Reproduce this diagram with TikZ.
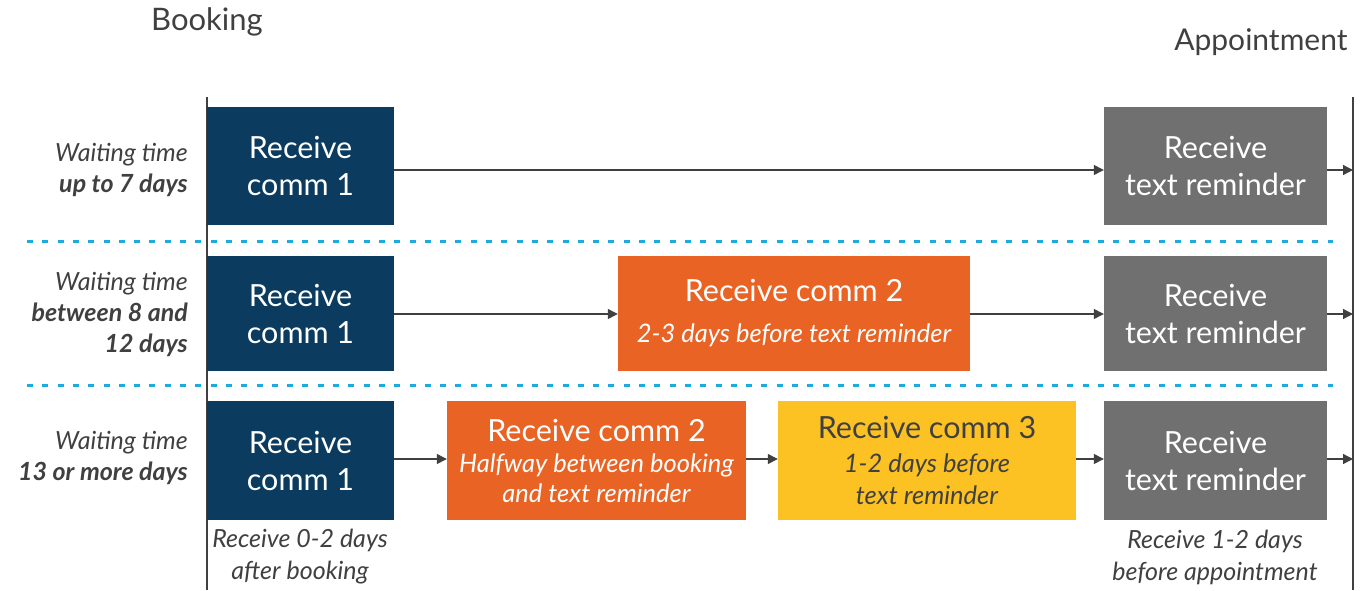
\documentclass[tikz,border=0pt]{standalone}
\usepackage{fontspec}
\setmainfont{Lato}
\usepackage{tikz}
\definecolor{navy}{HTML}{0B3C5F}
\definecolor{slate}{HTML}{6F706F}
\definecolor{rust}{HTML}{E86324}
\definecolor{gold}{HTML}{FCC122}
\definecolor{sky}{HTML}{1DAADF}
\definecolor{ink}{HTML}{404040}
\newcommand{\subline}[1]{{\fontsize{25.5}{30}\selectfont\itshape #1}}
\usetikzlibrary{arrows.meta}

\begin{document}
\begin{tikzpicture}[x=1pt,y=-1pt,
  commbox/.style={inner sep=0pt, align=center, text=white,
    font=\fontsize{30.5}{37}\selectfont},
  sidetext/.style={anchor=east, align=right, text=ink, inner sep=0pt,
    font=\fontsize{25}{31}\selectfont\itshape},
  notetext/.style={align=center, text=ink, inner sep=0pt,
    font=\fontsize{25}{32}\selectfont\itshape},
  flow/.style={-{Triangle[length=10pt,width=10pt]}, ink, line width=1.3pt},
  sep/.style={sky, line width=3pt, dash pattern=on 6pt off 9.3pt}]
\useasboundingbox (0,0) rectangle (1369,590);

% time line ends
\node[text=ink, font=\fontsize{31}{34}\selectfont] (book) at (207,22) {Booking};
\node[text=ink, font=\fontsize{30}{34}\selectfont, anchor=east] (appt) at (1351,42) {Appointment};
\draw[ink, line width=2.6pt] (207,97) -- (207,590);
\draw[ink, line width=2.6pt] (1353,97) -- (1353,590);

% row 1
\node[sidetext] (w1) at (188,170) {Waiting time\\\textbf{up to 7 days}};
\node[commbox, fill=navy, minimum width=187, minimum height=118] (a1) at (300.5,166) {Receive\\comm 1};
\node[commbox, fill=slate, minimum width=223, minimum height=118] (t1) at (1215.5,166) {Receive\\text reminder};
\coordinate (e1) at (1353,170);
\draw[flow] (a1.east |- 0,170) -- (t1.west |- 0,170);
\draw[flow] (t1.east |- 0,170) -- (e1);

\draw[sep] (27,241) -- (1333,241);

% row 2
\node[sidetext] (w2) at (188,314) {Waiting time\\\textbf{between 8 and}\\\textbf{12 days}};
\node[commbox, fill=navy, minimum width=187, minimum height=115] (a2) at (300.5,313.5) {Receive\\comm 1};
\node[commbox, fill=rust, minimum width=352, minimum height=115] (b2) at (794,313.5)
  {Receive comm 2\\[4pt]\subline{2-3 days before text reminder}};
\node[commbox, fill=slate, minimum width=223, minimum height=115] (t2) at (1215.5,313.5) {Receive\\text reminder};
\coordinate (e2) at (1353,314);
\draw[flow] (a2.east |- 0,314) -- (b2.west |- 0,314);
\draw[flow] (b2.east |- 0,314) -- (t2.west |- 0,314);
\draw[flow] (t2.east |- 0,314) -- (e2);

\draw[sep] (27,385) -- (1333,385);

% row 3
\node[sidetext] (w3) at (188,458) {Waiting time\\\textbf{13 or more days}};
\node[commbox, fill=navy, minimum width=187, minimum height=119] (a3) at (300.5,460.5) {Receive\\comm 1};
\node[commbox, fill=rust, minimum width=299, minimum height=119] (b3) at (596.5,460.5)
  {Receive comm 2\\[-6pt]\subline{Halfway between booking}\\[-7pt]\subline{and text reminder}};
\node[commbox, fill=gold, text=ink, minimum width=298, minimum height=119] (c3) at (927,460.5)
  {Receive comm 3\\[-3pt]\subline{1-2 days before}\\[-5pt]\subline{text reminder}};
\node[commbox, fill=slate, minimum width=223, minimum height=119] (t3) at (1215.5,460.5) {Receive\\text reminder};
\coordinate (e3) at (1353,459);
\draw[flow] (a3.east |- 0,459) -- (b3.west |- 0,459);
\draw[flow] (b3.east |- 0,459) -- (c3.west |- 0,459);
\draw[flow] (c3.east |- 0,459) -- (t3.west |- 0,459);
\draw[flow] (t3.east |- 0,459) -- (e3);

% notes under the first and last boxes
\node[notetext] (n1) at (300,557) {Receive 0-2 days\\after booking};
\node[notetext] (n2) at (1215,557) {Receive 1-2 days\\before appointment};
\end{tikzpicture}
\end{document}
